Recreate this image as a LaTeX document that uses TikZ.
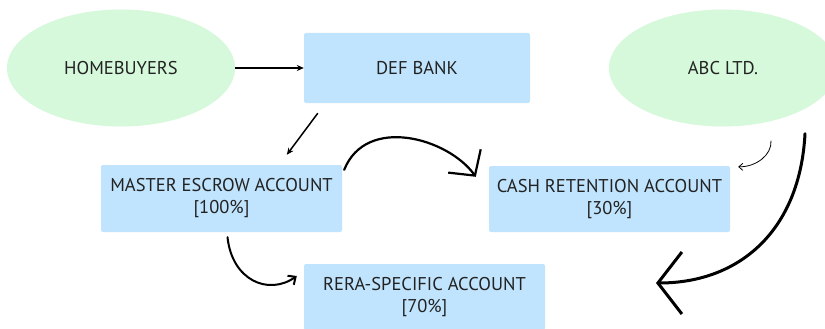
\documentclass[tikz,border=0pt]{standalone}
\usepackage{fontspec}
\setmainfont{PT Sans}
\usetikzlibrary{shapes.geometric,arrows.meta}
\definecolor{ellgreen}{HTML}{D5F9DA}
\definecolor{boxblue}{HTML}{C0E4FD}
\definecolor{txt}{HTML}{222222}
\begin{document}
\begin{tikzpicture}[x=1pt,y=-1pt,
  every node/.style={text=txt,font=\fontsize{18.5}{22}\selectfont,align=center,inner sep=0pt},
  ellnode/.style={ellipse,fill=ellgreen,minimum width=228pt,minimum height=117pt},
  boxnode/.style={rectangle,fill=boxblue,rounded corners=2pt,minimum width=241pt,minimum height=67pt},
  thin arrow/.style={line width=1.5pt,-{Stealth[length=7pt,width=6pt]}},
  curve arrow/.style={line width=2.2pt,line cap=round,-{Straight Barb[length=18pt,width=40pt,line width=2.2pt]}}]
\useasboundingbox (0,0) rectangle (825,329);
\clip (0,0) rectangle (825,329);
\fill[white] (0,0) rectangle (825,329);
\node[ellnode] (hb) at (121,68) {HOMEBUYERS};
\node[boxnode,minimum width=226pt,minimum height=70pt] (def) at (417,68) {DEF BANK};
\node[ellnode] (abc) at (723,68) {ABC LTD.};
\node[boxnode] (mea) at (221.5,198.5) {MASTER ESCROW ACCOUNT\\{}[100\%]};
\node[boxnode,minimum height=66pt] (cra) at (609.5,199) {CASH RETENTION ACCOUNT\\{}[30\%]};
\node[boxnode,minimum height=66pt] (rera) at (424.5,297) {RERA-SPECIFIC ACCOUNT\\{}[70\%]};
\coordinate (bigend) at (656,283);
% connectors
\draw[thin arrow] (hb.east) -- (def.west);
\draw[thin arrow] ([shift={(14,10)}]def.south west) -- ([shift={(186,-10)}]mea.north west);
\draw[curve arrow] ([shift={(2,5)}]mea.north east) .. controls (366,115) and (448,138) .. ([shift={(-13,11)}]cra.north west);
\draw[line width=2pt,line cap=round,-{Straight Barb[length=6pt,width=11pt,line width=2pt]}] ([shift={(6,5)}]mea.south) .. controls (232,280) and (268,296) .. ([shift={(-7,-21)}]rera.west);
\draw[line width=0.8pt,-{Straight Barb[length=4pt,width=7pt,line width=0.8pt]}] ([shift={(48,14)}]abc.south) .. controls (772,155) and (756,167) .. ([shift={(8,1)}]cra.north east);
\draw[line width=3pt,line cap=round,-{Straight Barb[length=24pt,width=62pt,line width=3pt]}] ([shift={(82,7)}]abc.south) .. controls (800,230) and (740,283) .. (bigend);
\end{tikzpicture}
\end{document}
